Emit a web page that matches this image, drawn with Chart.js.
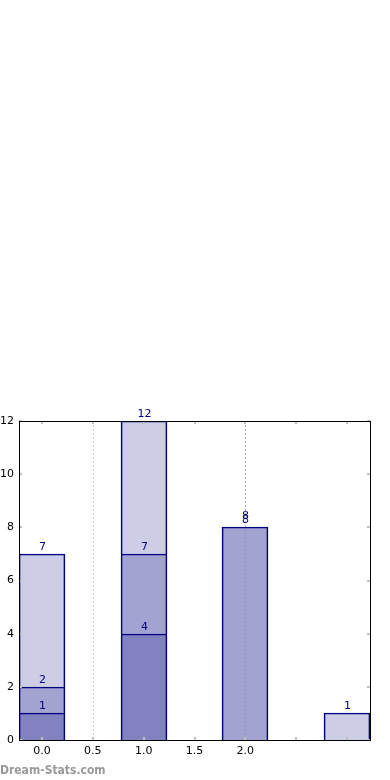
<!DOCTYPE html>
<html>
<head>
<meta charset="utf-8">
<script src="https://cdn.jsdelivr.net/npm/chart.js@4/dist/chart.umd.min.js"></script>
<style>
  html, body { margin: 0; padding: 0; background: #fff; }
  canvas { display: block; }
</style>
</head>
<body>
<canvas id="chart" width="390" height="780"></canvas>
<script>
// positions on the x axis
var positions = [0, 1, 2, 3];
// stacked segments (bottom to top), null = no segment
var darkValues = [1, 4, null, null];
var midValues = [1, 3, 8, null];
var lightValues = [5, 5, 0, 1];
var xTicks = [0, 0.5, 1, 1.5, 2, 2.5, 3];
var xLabelMax = 2;
var yTicks = [0, 2, 4, 6, 8, 10, 12];
var dottedLines = [0.5, 2.0];
var watermark = 'Dream-Stats.com';

var navy = '#000080';
var font = '"DejaVu Sans", sans-serif';

function points(vals){
    return positions.map(function(x, i){ return {x: x, y: vals[i]}; });
}

var framePlugin = {
    id: 'frame',
    beforeDatasetsDraw: function(chart){
        var ctx = chart.ctx, a = chart.chartArea;
        var xs = chart.scales.x;
        // snap bars to whole pixels so edges stay crisp
        chart.data.datasets.forEach(function(ds, di){
            chart.getDatasetMeta(di).data.forEach(function(el){
                el.x = Math.round(el.x);
                el.y = Math.round(el.y);
                el.base = Math.round(el.base);
            });
        });
        ctx.save();
        ctx.strokeStyle = '#cccccc';
        ctx.lineWidth = 1;
        ctx.setLineDash([2, 2]);
        dottedLines.forEach(function(v){
            if(v === 2.0) return;
            var px = Math.round(xs.getPixelForValue(v)) + 0.5;
            ctx.beginPath(); ctx.moveTo(px, a.top); ctx.lineTo(px, a.bottom); ctx.stroke();
        });
        ctx.restore();
    },
    afterDatasetsDraw: function(chart){
        var ctx = chart.ctx, a = chart.chartArea;
        var xs = chart.scales.x, ys = chart.scales.y;
        ctx.save();
        // dotted line drawn over the bar
        ctx.strokeStyle = 'rgba(150,150,165,0.8)';
        ctx.lineWidth = 1;
        ctx.setLineDash([2, 2]);
        dottedLines.forEach(function(v){
            if(v !== 2.0) return;
            var px = Math.round(xs.getPixelForValue(v)) + 0.5;
            ctx.beginPath(); ctx.moveTo(px, a.top); ctx.lineTo(px, a.bottom); ctx.stroke();
        });
        ctx.setLineDash([]);

        // segment labels (cumulative totals)
        ctx.fillStyle = navy;
        ctx.font = '11px ' + font;
        ctx.textAlign = 'center';
        ctx.textBaseline = 'bottom';
        var totals = positions.map(function(){ return 0; });
        chart.data.datasets.forEach(function(ds, di){
            var meta = chart.getDatasetMeta(di);
            ds.data.forEach(function(p, i){
                if(p.y === null) return;
                totals[i] += p.y;
                var el = meta.data[i];
                var off = p.y === 0 ? 4 : 0;
                ctx.fillText(String(totals[i]), el.x + 0.5, el.y - 1 - off);
            });
        });

        // tick marks inside the frame
        ctx.strokeStyle = '#c0c0c0';
        ctx.lineWidth = 2;
        xTicks.forEach(function(v){
            var px = Math.round(xs.getPixelForValue(v));
            ctx.beginPath(); ctx.moveTo(px, a.bottom); ctx.lineTo(px, a.bottom - 3); ctx.stroke();
            ctx.beginPath(); ctx.moveTo(px, a.top); ctx.lineTo(px, a.top + 3); ctx.stroke();
        });
        yTicks.forEach(function(v){
            var py = Math.round(ys.getPixelForValue(v));
            ctx.beginPath(); ctx.moveTo(a.left, py); ctx.lineTo(a.left + 3, py); ctx.stroke();
            ctx.beginPath(); ctx.moveTo(a.right, py); ctx.lineTo(a.right - 3, py); ctx.stroke();
        });

        // frame
        ctx.strokeStyle = '#000';
        ctx.lineWidth = 1;
        ctx.strokeRect(Math.round(a.left) + 0.5, Math.round(a.top) + 0.5,
            Math.round(a.right - a.left), Math.round(a.bottom - a.top));

        // watermark
        ctx.fillStyle = '#999999';
        ctx.font = 'bold 12px "DejaVu Sans Condensed", "DejaVu Sans", sans-serif';
        ctx.textAlign = 'left';
        ctx.textBaseline = 'alphabetic';
        ctx.fillText(watermark, 0, 774);
        ctx.restore();
    }
};

var barStyle = function(vals, alpha){
    return {
        data: points(vals),
        backgroundColor: 'rgba(0,0,128,' + alpha + ')',
        borderColor: navy,
        borderWidth: 1,
        barThickness: 46,
        borderSkipped: 'bottom'
    };
};

var ctx = document.getElementById('chart').getContext('2d');
var chart = new Chart(ctx, {
    type: 'bar',
    data: {
        datasets: [
            barStyle(darkValues, 0.49),
            barStyle(midValues, 0.36),
            barStyle(lightValues, 0.195)
        ]
    },
    options: {
        responsive: false,
        animation: false,
        layout: {padding: {top: 421, right: 20, left: 0, bottom: 0}},
        plugins: {legend: {display: false}, tooltip: {enabled: false}},
        scales: {
            x: {
                type: 'linear',
                stacked: true,
                min: -0.2262,
                max: 3.2262,
                offset: false,
                grid: {display: false, drawTicks: false},
                border: {display: false},
                afterBuildTicks: function(scale){
                    scale.ticks = xTicks.map(function(v){ return {value: v}; });
                },
                afterFit: function(scale){ scale.height = 40; },
                ticks: {
                    autoSkip: false,
                    maxRotation: 0,
                    color: '#000',
                    padding: 5,
                    font: {family: font, size: 11},
                    callback: function(v){ return v <= xLabelMax ? v.toFixed(1) : ''; }
                }
            },
            y: {
                stacked: true,
                min: 0,
                max: 12,
                grid: {display: false, drawTicks: false},
                border: {display: false},
                afterBuildTicks: function(scale){
                    scale.ticks = yTicks.map(function(v){ return {value: v}; });
                },
                afterFit: function(scale){ scale.width = 19; },
                ticks: {
                    color: '#000',
                    padding: 5,
                    font: {family: font, size: 11}
                }
            }
        }
    },
    plugins: [framePlugin]
});
</script>
</body>
</html>
